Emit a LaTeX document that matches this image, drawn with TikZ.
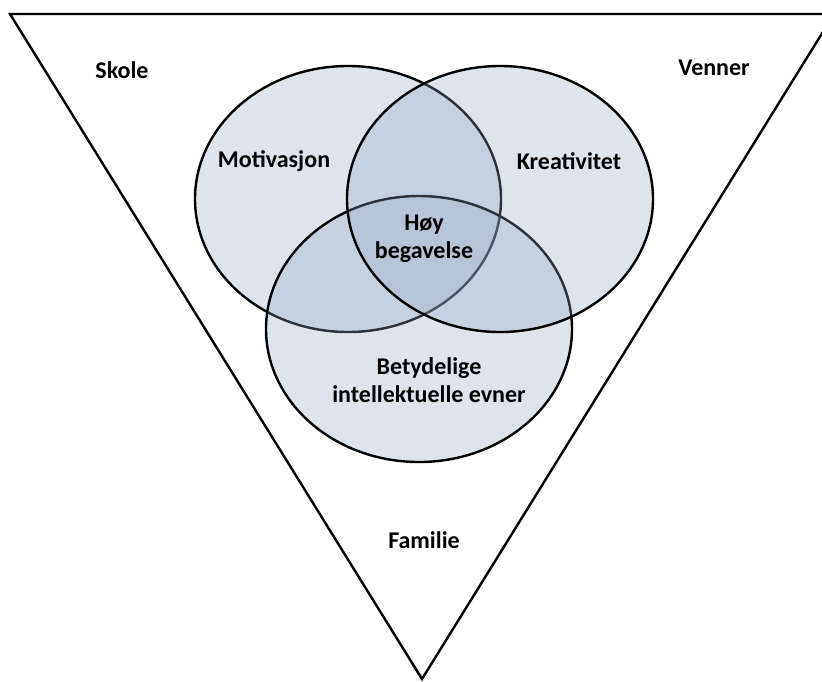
\documentclass[tikz,border=0pt]{standalone}
\usepackage{fontspec}
\setmainfont{Carlito}
\usetikzlibrary{shapes.geometric}
\definecolor{vennfill}{RGB}{145,165,192}

\begin{document}
\begin{tikzpicture}[x=0.5pt,y=-0.5pt,line width=1.2pt,
                    font=\fontsize{12}{14}\selectfont\bfseries]
  \tikzstyle{set}=[ellipse,draw=black,fill=vennfill,fill opacity=0.3,
                   minimum width=153pt,minimum height=133pt,inner sep=0pt]
  \tikzstyle{tag}=[align=center,inner sep=1pt]

  \useasboundingbox (0,0) rectangle (822,681);

  % the surrounding triangle
  \coordinate (tl)  at (10,14);
  \coordinate (tr)  at (834,14);
  \coordinate (tip) at (422,679);
  \draw[line join=miter] (tl) -- (tr) -- (tip) -- cycle;

  % the three sets
  \node[set] (mot) at (348,199) {};
  \node[set] (evn) at (419,329) {};
  \node[set] (kre) at (500,199) {};

  % texts
  \node[tag] (skole)   at (122,70)  {Skole};
  \node[tag] (venner)  at (714,68)  {Venner};
  \node[tag] (motlab)  at (274,161) {Motivasjon};
  \node[tag] (krelab)  at (569,161) {Kreativitet};
  \node[tag] (hoy)     at (424,239) {Høy\\begavelse};
  \node[tag] (evnlab)  at (429,380) {Betydelige\\intellektuelle evner};
  \node[tag] (familie) at (424,540) {Familie};
\end{tikzpicture}
\end{document}
